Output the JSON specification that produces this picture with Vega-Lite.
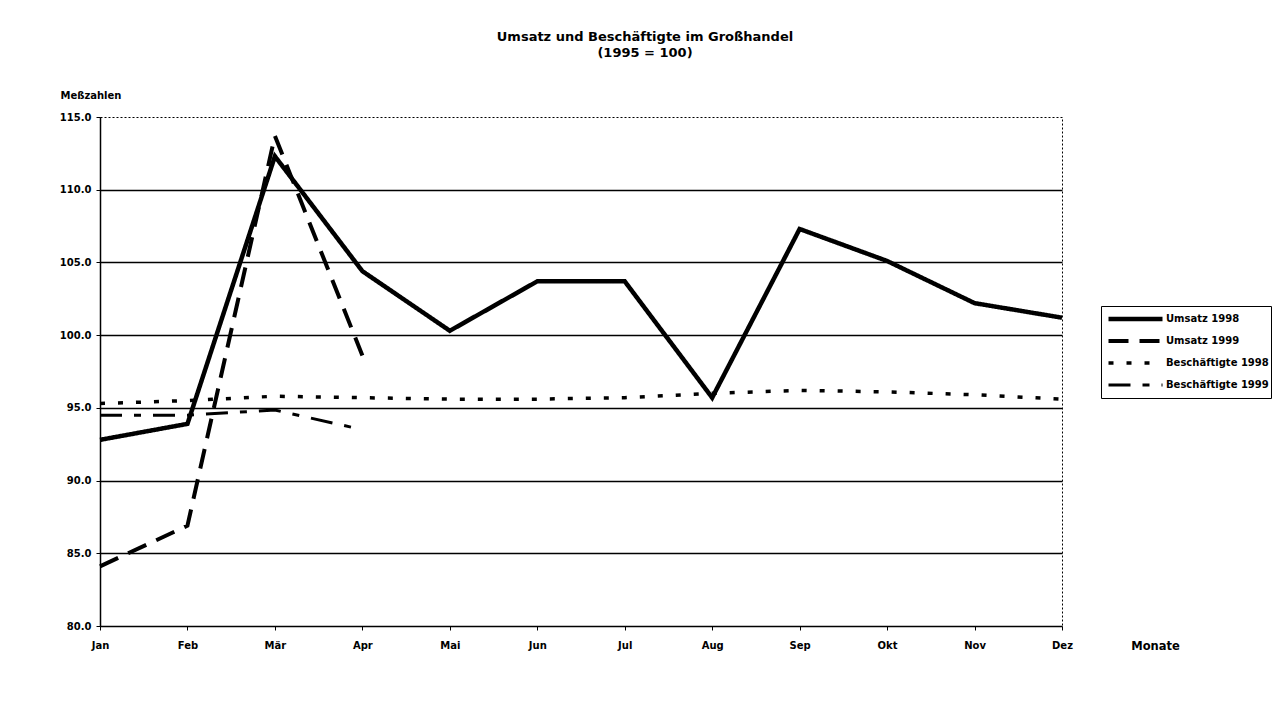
{
  "$schema": "https://vega.github.io/schema/vega-lite/v6.json",
  "width": 962,
  "height": 509,
  "autosize": {"type": "none"},
  "padding": {"left": 100, "top": 117, "right": 216, "bottom": 78},
  "background": "white",
  "config": {
    "font": "DejaVu Sans",
    "view": {"stroke": "black", "strokeDash": [2, 2], "strokeWidth": 1}
  },
  "title": {
    "text": ["Umsatz und Beschäftigte im Großhandel", "(1995 = 100)"],
    "fontSize": 13,
    "fontWeight": "bold",
    "font": "DejaVu Sans",
    "color": "black",
    "anchor": "middle",
    "dx": 64,
    "offset": 30,
    "lineHeight": 16
  },
  "data": {
    "values": [
      {"Monat": "Jan", "Serie": "Umsatz 1998", "Wert": 92.8},
      {"Monat": "Feb", "Serie": "Umsatz 1998", "Wert": 93.9},
      {"Monat": "Mär", "Serie": "Umsatz 1998", "Wert": 112.3},
      {"Monat": "Apr", "Serie": "Umsatz 1998", "Wert": 104.4},
      {"Monat": "Mai", "Serie": "Umsatz 1998", "Wert": 100.3},
      {"Monat": "Jun", "Serie": "Umsatz 1998", "Wert": 103.7},
      {"Monat": "Jul", "Serie": "Umsatz 1998", "Wert": 103.7},
      {"Monat": "Aug", "Serie": "Umsatz 1998", "Wert": 95.7},
      {"Monat": "Sep", "Serie": "Umsatz 1998", "Wert": 107.3},
      {"Monat": "Okt", "Serie": "Umsatz 1998", "Wert": 105.1},
      {"Monat": "Nov", "Serie": "Umsatz 1998", "Wert": 102.2},
      {"Monat": "Dez", "Serie": "Umsatz 1998", "Wert": 101.2},
      {"Monat": "Jan", "Serie": "Umsatz 1999", "Wert": 84.1},
      {"Monat": "Feb", "Serie": "Umsatz 1999", "Wert": 86.9},
      {"Monat": "Mär", "Serie": "Umsatz 1999", "Wert": 113.7},
      {"Monat": "Apr", "Serie": "Umsatz 1999", "Wert": 98.6},
      {"Monat": "Jan", "Serie": "Beschäftigte 1998", "Wert": 95.3},
      {"Monat": "Feb", "Serie": "Beschäftigte 1998", "Wert": 95.5},
      {"Monat": "Mär", "Serie": "Beschäftigte 1998", "Wert": 95.8},
      {"Monat": "Apr", "Serie": "Beschäftigte 1998", "Wert": 95.7},
      {"Monat": "Mai", "Serie": "Beschäftigte 1998", "Wert": 95.6},
      {"Monat": "Jun", "Serie": "Beschäftigte 1998", "Wert": 95.6},
      {"Monat": "Jul", "Serie": "Beschäftigte 1998", "Wert": 95.7},
      {"Monat": "Aug", "Serie": "Beschäftigte 1998", "Wert": 96.0},
      {"Monat": "Sep", "Serie": "Beschäftigte 1998", "Wert": 96.2},
      {"Monat": "Okt", "Serie": "Beschäftigte 1998", "Wert": 96.1},
      {"Monat": "Nov", "Serie": "Beschäftigte 1998", "Wert": 95.9},
      {"Monat": "Dez", "Serie": "Beschäftigte 1998", "Wert": 95.6},
      {"Monat": "Jan", "Serie": "Beschäftigte 1999", "Wert": 94.5},
      {"Monat": "Feb", "Serie": "Beschäftigte 1999", "Wert": 94.5},
      {"Monat": "Mär", "Serie": "Beschäftigte 1999", "Wert": 94.85},
      {"Monat": "Apr", "Serie": "Beschäftigte 1999", "Wert": 93.5}
    ]
  },
  "encoding": {
    "x": {
      "field": "Monat",
      "type": "ordinal",
      "sort": ["Jan", "Feb", "Mär", "Apr", "Mai", "Jun", "Jul", "Aug", "Sep", "Okt", "Nov", "Dez"],
      "scale": {"type": "point", "padding": 0},
      "axis": {
        "title": "Monate",
        "titleX": 1055,
        "titleY": 20,
        "titleAlign": "center",
        "titleBaseline": "middle",
        "titleFontSize": 11.5,
        "titleFontWeight": "bold",
        "titleColor": "black",
        "labelAngle": 0,
        "labelFontSize": 10,
        "labelFontWeight": "bold",
        "labelColor": "black",
        "labelPadding": 10,
        "tickSize": 4,
        "tickColor": "black",
        "domainColor": "black",
        "domainWidth": 1.5,
        "grid": false
      }
    }
  },
  "layer": [
    {
      "mark": {"type": "line", "opacity": 0},
      "encoding": {
        "detail": {"field": "Serie", "type": "nominal"},
        "y": {
          "field": "Wert",
          "type": "quantitative",
          "scale": {"domain": [80, 115], "nice": false, "zero": false},
          "axis": {
            "orient": "left",
            "values": [85, 90, 95, 100, 105, 110],
            "grid": true,
            "gridColor": "black",
            "gridWidth": 1.5,
            "labels": false,
            "ticks": false,
            "domain": false,
            "title": null
          }
        }
      }
    },
    {
      "mark": {"type": "line", "color": "black", "strokeCap": "butt", "strokeJoin": "miter"},
      "encoding": {
        "y": {
          "field": "Wert",
          "type": "quantitative",
          "scale": {"domain": [80, 115], "nice": false, "zero": false},
          "axis": {
            "orient": "left",
            "values": [80, 85, 90, 95, 100, 105, 110, 115],
            "format": ".1f",
            "title": "Meßzahlen",
            "titleAngle": 0,
            "titleX": -40,
            "titleY": -22,
            "titleAlign": "left",
            "titleBaseline": "middle",
            "titleFontSize": 10,
            "titleFontWeight": "bold",
            "titleColor": "black",
            "labelFontSize": 10,
            "labelFontWeight": "bold",
            "labelColor": "black",
            "labelPadding": 5,
            "tickSize": 4,
            "tickColor": "black",
            "domainColor": "black",
            "domainWidth": 1.5,
            "grid": false
          }
        },
        "strokeDash": {
          "field": "Serie",
          "type": "nominal",
          "scale": {
            "domain": ["Umsatz 1998", "Umsatz 1999", "Beschäftigte 1998", "Beschäftigte 1999"],
            "range": [[1, 0], [20, 11], [5, 13], [22, 12, 7, 12]]
          },
          "legend": {
            "title": null,
            "orient": "none",
            "legendX": 1001,
            "legendY": 189,
            "direction": "vertical",
            "strokeColor": "black",
            "fillColor": "white",
            "padding": 2,
            "symbolOffset": 3,
            "clipHeight": 22,
            "symbolType": "stroke",
            "symbolSize": 2916,
            "symbolStrokeWidth": 3.5,
            "symbolStrokeColor": "black",
            "labelFont": "DejaVu Sans",
            "labelFontSize": 10,
            "labelFontWeight": "bold",
            "labelColor": "black",
            "labelOffset": 1,
            "rowPadding": 0
          }
        },
        "strokeWidth": {
          "field": "Serie",
          "type": "nominal",
          "scale": {
            "domain": ["Umsatz 1998", "Umsatz 1999", "Beschäftigte 1998", "Beschäftigte 1999"],
            "range": [4.5, 3, 4, 3.5]
          },
          "legend": null
        }
      }
    }
  ],
  "resolve": {"axis": {"y": "independent"}}
}
